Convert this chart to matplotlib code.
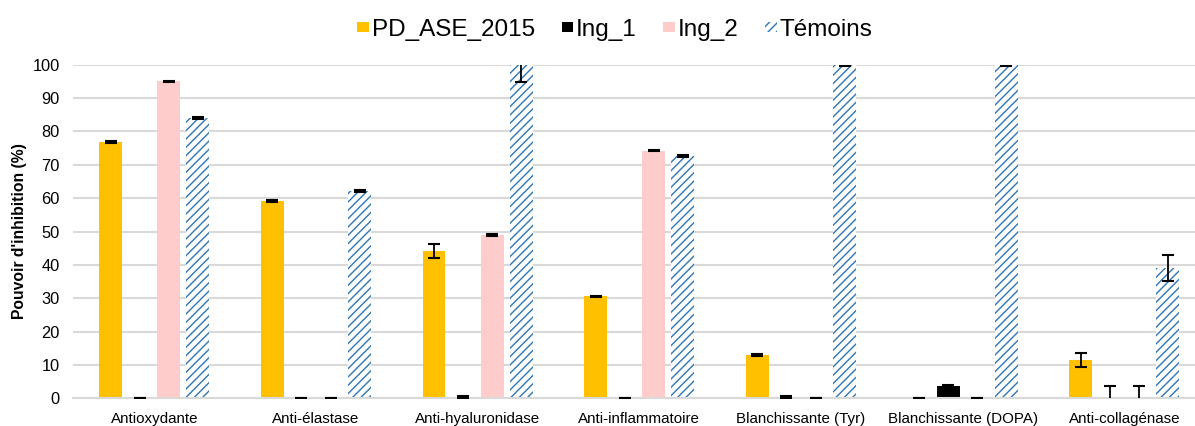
import numpy as np
import matplotlib
matplotlib.use("Agg")
import matplotlib.pyplot as plt

plt.rcParams['font.family'] = ['Liberation Sans', 'DejaVu Sans']
plt.rcParams['hatch.linewidth'] = 1.0

categories = ["Antioxydante", "Anti-élastase", "Anti-hyaluronidase",
              "Anti-inflammatoire", "Blanchissante (Tyr)",
              "Blanchissante (DOPA)", "Anti-collagénase"]
series_names = ["PD_ASE_2015", "Ing_1", "Ing_2", "Témoins"]

pd_ase = [76.8, 59.3, 44.2, 30.6, 13.0, 0.0, 11.5]
ing_1 = [0.0, 0.0, 0.5, 0.0, 0.3, 3.7, 0.0]
ing_2 = [95.0, 0.0, 49.0, 74.2, 0.0, 0.0, 0.0]
temoins = [84.0, 62.2, 100.0, 72.7, 100.0, 100.0, 39.0]

pd_ase_err = [0.3, 0.3, 2.2, 0.2, 0.2, 0.0, 2.2]
ing_1_err = [0.0, 0.0, 0.3, 0.0, 0.3, 0.3, 3.7]
ing_2_err = [0.2, 0.0, 0.4, 0.2, 0.0, 0.0, 3.7]
temoins_err = [0.3, 0.3, 5.2, 0.3, 0.3, 0.3, 3.9]

values = [pd_ase, ing_1, ing_2, temoins]
errors = [pd_ase_err, ing_1_err, ing_2_err, temoins_err]
colors = ["#FFC000", "#000000", "#FFCCCC", "white"]
hatch_blue = "#2E75B6"

fig = plt.figure(figsize=(11.95, 4.26), dpi=100)
ax = fig.add_axes([0.0615, 0.065, 0.947, 0.783])

x = np.arange(len(categories))
step = 0.18
width = 0.142

for i, (name, vals, errs, col) in enumerate(zip(series_names, values, errors, colors)):
    pos = x + (i - 1.5) * step
    if name == "Témoins":
        ax.bar(pos, vals, width, color=col, edgecolor=hatch_blue, hatch="////",
               linewidth=0, label=name, zorder=2)
    else:
        ax.bar(pos, vals, width, color=col, linewidth=0, label=name, zorder=2)
    ax.errorbar(pos, vals, yerr=errs, fmt="none", ecolor="black",
                elinewidth=1.3, capsize=4.3, capthick=1.5, zorder=3)

ax.set_xlim(-0.5, len(categories) - 0.5)
ax.set_ylim(0, 100)
ax.set_yticks(np.arange(0, 101, 10))
ax.set_xticks(x)
ax.set_xticklabels(categories)
ax.tick_params(axis="both", length=0, colors="black")
ax.tick_params(axis="x", pad=10, labelsize=10.9)
ax.tick_params(axis="y", pad=10, labelsize=11.8)
ax.yaxis.grid(True, color="#D9D9D9", linewidth=1.5, zorder=0)
ax.set_axisbelow(True)
for side in ["top", "right", "left"]:
    ax.spines[side].set_visible(False)
ax.spines["bottom"].set_color("#D9D9D9")
ax.spines["bottom"].set_linewidth(1.5)

ax.set_ylabel("Pouvoir d'inhibition (%)", fontsize=11.3, fontweight="bold", labelpad=4)

fig.legend(loc="center", bbox_to_anchor=(0.5146, 0.93), ncol=4, frameon=False,
           fontsize=17.5, handlelength=0.47, handleheight=0.2, handletextpad=0.12,
           columnspacing=1.1, borderpad=0.2)

fig.savefig("out.png", dpi=100)
